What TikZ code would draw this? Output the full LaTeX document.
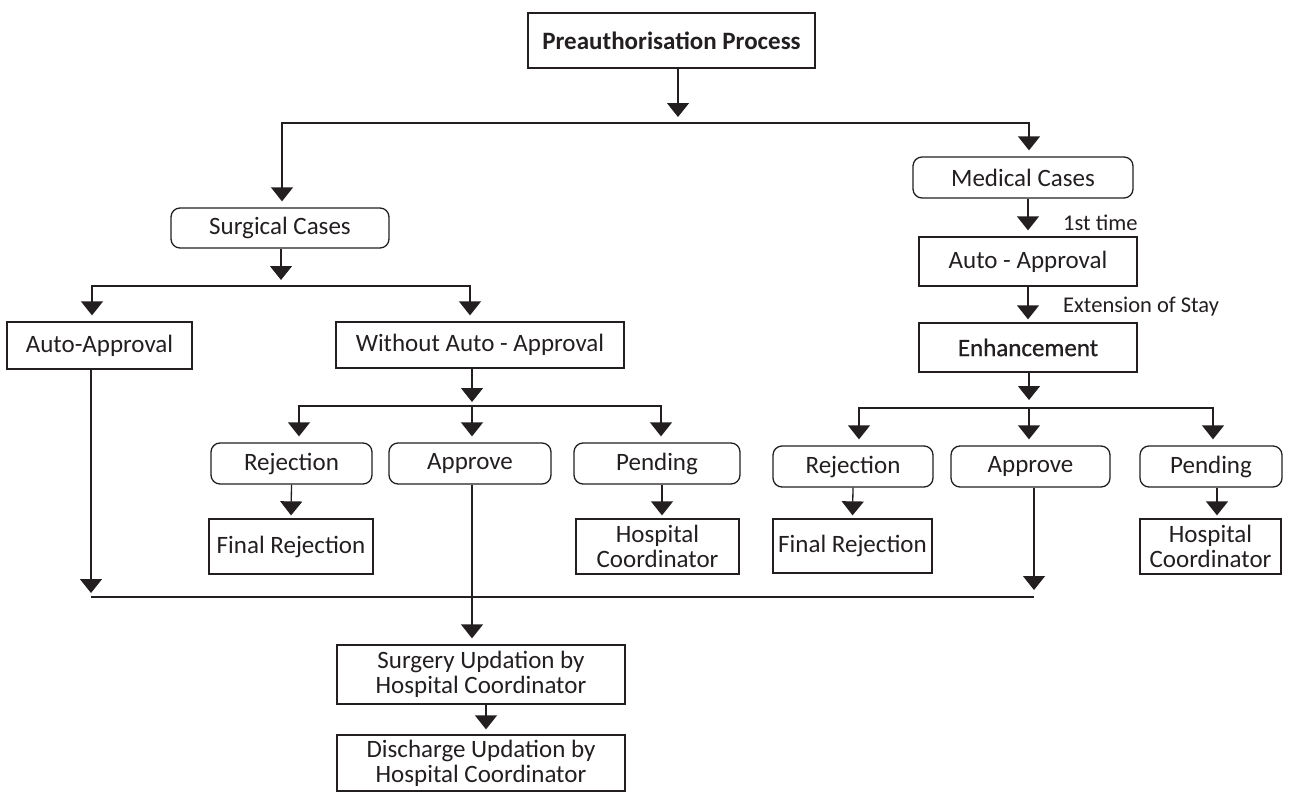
\documentclass[tikz,border=0pt]{standalone}
\usepackage{fontspec}
\setmainfont{Carlito}
\newfontfamily\semibold[FakeBold=0.8]{Carlito}
\usetikzlibrary{arrows.meta}
\definecolor{ink}{HTML}{231F20}
\begin{document}
\begin{tikzpicture}[x=1pt,y=-1pt,
  every node/.style={text=ink, font=\fontsize{25}{25}\selectfont},
  box/.style={draw=ink, line width=1.3pt, inner sep=0pt, align=center},
  rbox/.style={box, rounded corners=9pt},
  link/.style={draw=ink, line width=1.3pt},
  arr/.style={link, -{Triangle[width=22pt,length=14pt]}, shorten >=6pt},
  note/.style={text=ink, font=\fontsize{22.5}{25}\selectfont, anchor=west, inner sep=0pt}]
\useasboundingbox (0,0) rectangle (1293,792);

% ---- boxes ----
\node[box, minimum width=287pt, minimum height=55pt, font=\fontsize{25}{25}\selectfont\bfseries] (pre) at (671.5,40.5) {Preauthorisation Process};

% surgical branch
\node[rbox, minimum width=218pt, minimum height=40pt] (surg) at (280,228) {Surgical Cases};
\node[box, minimum width=185pt, minimum height=47pt] (auto) at (99.5,345.5) {Auto-Approval};
\node[box, minimum width=288pt, minimum height=46pt] (woa) at (480,345) {Without Auto - Approval};
\node[rbox, minimum width=161pt, minimum height=41pt] (rej1) at (291.5,463.5) {Rejection};
\node[rbox, minimum width=162pt, minimum height=41pt] (app1) at (470,463.5) {Approve};
\node[rbox, minimum width=166pt, minimum height=41pt] (pend1) at (657,463.5) {Pending};
\node[box, minimum width=164pt, minimum height=55pt] (fr1) at (291,546.5) {Final Rejection};
\node[box, minimum width=163pt, minimum height=55pt] (hc1) at (657.5,546.5) {Hospital\\Coordinator};

% medical branch
\node[rbox, minimum width=220pt, minimum height=41pt] (med) at (1023,177.5) {Medical Cases};
\node[box, minimum width=218pt, minimum height=49pt] (aa2) at (1028,261.5) {Auto - Approval};
\node[box, minimum width=218pt, minimum height=49pt, font={\semibold\fontsize{25}{25}\selectfont}] (enh) at (1028,347.5) {Enhancement};
\node[rbox, minimum width=160pt, minimum height=41pt] (rej2) at (853,466.5) {Rejection};
\node[rbox, minimum width=159pt, minimum height=41pt] (app2) at (1030.5,466.5) {Approve};
\node[rbox, minimum width=142pt, minimum height=41pt] (pend2) at (1211,466.5) {Pending};
\node[box, minimum width=159pt, minimum height=54pt] (fr2) at (852.5,546) {Final Rejection};
\node[box, minimum width=141pt, minimum height=55pt] (hc2) at (1210.5,546.5) {Hospital\\Coordinator};

% updates after approval
\node[box, minimum width=288pt, minimum height=59pt] (su) at (481,674.5) {Surgery Updation by\\Hospital Coordinator};
\node[box, minimum width=288pt, minimum height=56pt] (du) at (481,763) {Discharge Updation by\\Hospital Coordinator};

% edge labels
\node[note] (l1) at (1063,223) {1st time};
\node[note] (l2) at (1063,307) {Extension of Stay};

% ---- bus junctions ----
\coordinate (t0) at (678,123);  \coordinate (t1) at (282,123);  \coordinate (t2) at (1029,123);
\coordinate (s0) at (281,286);  \coordinate (s1) at (92,286);   \coordinate (s2) at (470,286);
\coordinate (w0) at (472,406);  \coordinate (w1) at (299,406);  \coordinate (w2) at (661,406);
\coordinate (e0) at (1029,408); \coordinate (e1) at (859,408);  \coordinate (e2) at (1213,408);
\coordinate (m1) at (91,597);   \coordinate (m2) at (1034,597);

% ---- connectors ----
\draw[arr] (pre.south -| t0) -- (t0);
\draw[arr] (t0) -- (t1) -- (t1 |- surg.north);
\draw[arr] (t0) -- (t2) -- (t2 |- med.north);

\draw[arr] (surg.south -| s0) -- (s0);
\draw[arr] (s0) -- (s1) -- (s1 |- auto.north);
\draw[arr] (s0) -- (s2) -- (s2 |- woa.north);

\draw[arr, shorten >=4pt] (woa.south -| w0) -- (w0);
\draw[arr] (w0) -- (w1) -- (w1 |- rej1.north);
\draw[arr] (w0) -- (w0 |- app1.north);
\draw[arr] (w0) -- (w2) -- (w2 |- pend1.north);
\draw[arr, shorten >=3pt] (rej1.south) -- (fr1.north);
\draw[arr, shorten >=3pt] (pend1.south -| 662,0) -- (hc1.north -| 662,0);

\draw[arr] (med.south -| aa2.north) -- (aa2.north);
\draw[arr, shorten >=3pt] (aa2.south) -- (enh.north);
\draw[arr, shorten >=8pt] (enh.south -| e0) -- (e0);
\draw[arr] (e0) -- (e1) -- (e1 |- rej2.north);
\draw[arr] (e0) -- (e0 |- app2.north);
\draw[arr] (e0) -- (e2) -- (e2 |- pend2.north);
\draw[arr, shorten >=3pt] (rej2.south) -- (fr2.north);
\draw[arr, shorten >=3pt] (pend2.south -| 1217,0) -- (hc2.north -| 1217,0);

% merge of approved cases
\draw[link] (m1) -- (m2);
\draw[arr, shorten >=4pt] (auto.south -| m1) -- (m1);
\draw[arr, shorten >=7pt] (app2.south -| m2) -- (m2);
\draw[arr] (app1.south -| w0) -- (w0 |- su.north);
\draw[arr, shorten >=5pt] (su.south -| 486,0) -- (du.north -| 486,0);
\end{tikzpicture}
\end{document}
